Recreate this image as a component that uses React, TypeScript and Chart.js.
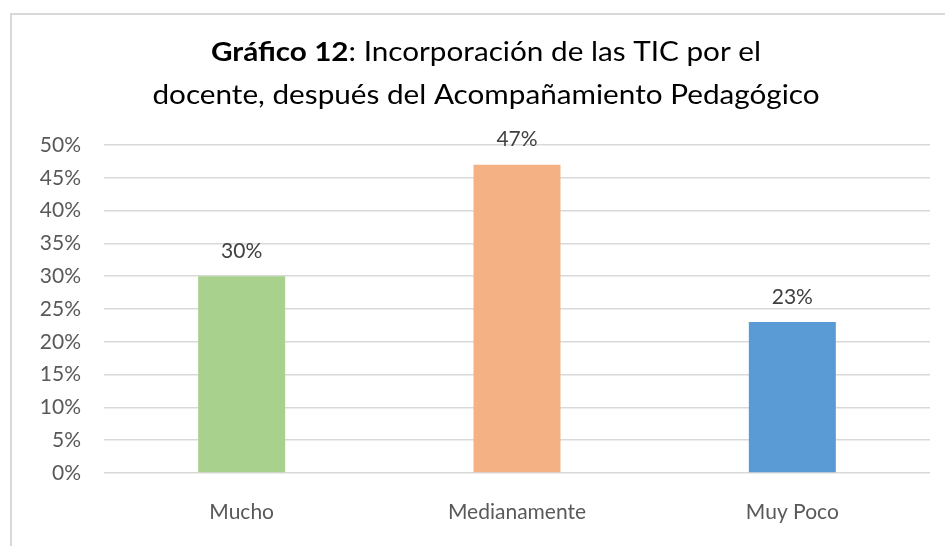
import React, { useEffect, useRef } from "react";
import { Chart, registerables } from "chart.js";

Chart.register(...registerables);

const categories = ["Mucho", "Medianamente", "Muy Poco"];
const values = [30, 47, 23];
const barColors = ["#A9D18E", "#F4B183", "#5B9BD5"];
const titleBold = "Gráfico 12";
const titleRest = ": Incorporación de las TIC por el";
const titleLine2 = "docente, después del Acompañamiento Pedagógico";
const yMax = 50;
const yStep = 5;

const FONT = "Lato, 'Open Sans', sans-serif";

const framePlugin = {
  id: "frame",
  beforeDraw(chart: any) {
    const ctx = chart.ctx;
    ctx.save();
    ctx.fillStyle = "#ffffff";
    ctx.fillRect(0, 0, chart.width, chart.height);
    ctx.strokeStyle = "#d9d9d9";
    ctx.lineWidth = 2;
    ctx.beginPath();
    ctx.moveTo(10, 14);
    ctx.lineTo(chart.width, 14);
    ctx.moveTo(11, 13);
    ctx.lineTo(11, chart.height);
    ctx.stroke();
    ctx.restore();
  },
};

const titlePlugin = {
  id: "mixedTitle",
  afterDraw(chart: any) {
    const ctx = chart.ctx;
    const cx = 486;
    const size = 27;
    const sx = 1.1;
    ctx.save();
    ctx.fillStyle = "#000000";
    ctx.textBaseline = "middle";
    ctx.textAlign = "left";
    ctx.font = `bold ${size}px ${FONT}`;
    const wb = ctx.measureText(titleBold).width;
    ctx.font = `${size}px ${FONT}`;
    const wr = ctx.measureText(titleRest).width;
    const w2 = ctx.measureText(titleLine2).width;
    ctx.translate(cx, 0);
    ctx.scale(sx, 1);
    const start1 = -(wb + wr) / 2;
    ctx.font = `bold ${size}px ${FONT}`;
    ctx.fillText(titleBold, start1, 52);
    ctx.font = `${size}px ${FONT}`;
    ctx.fillText(titleRest, start1 + wb, 52);
    ctx.fillText(titleLine2, -w2 / 2, 95);
    ctx.restore();
  },
};

const labelPlugin = {
  id: "valueLabels",
  afterDatasetsDraw(chart: any) {
    const ctx = chart.ctx;
    const meta = chart.getDatasetMeta(0);
    ctx.save();
    ctx.fillStyle = "#404040";
    ctx.font = `21px ${FONT}`;
    ctx.textAlign = "center";
    ctx.textBaseline = "middle";
    meta.data.forEach((bar: any, i: number) => {
      ctx.fillText(`${values[i]}%`, bar.x, bar.y - 25);
    });
    ctx.restore();
  },
};

export default function App() {
  const ref = useRef<HTMLCanvasElement | null>(null);
  useEffect(() => {
    if (!ref.current) return;
    const chart = new Chart(ref.current, {
      type: "bar",
      data: {
        labels: categories,
        datasets: [
          {
            data: values,
            backgroundColor: barColors,
            borderWidth: 0,
            categoryPercentage: 1,
            barPercentage: 0.316,
          },
        ],
      },
      options: {
        animation: false,
        responsive: false,
        layout: { padding: { top: 145, right: 15, left: 0, bottom: 0 } },
        plugins: {
          legend: { display: false },
          title: { display: false },
          tooltip: { enabled: false },
        },
        scales: {
          x: {
            grid: { display: false },
            border: { display: false },
            ticks: {
              color: "#595959",
              font: { family: FONT, size: 21 },
              padding: 19,
            },
            afterFit(scale: any) {
              scale.height = 73;
            },
          },
          y: {
            min: 0,
            max: yMax,
            grid: { color: "#d9d9d9", lineWidth: 1.5, drawTicks: false },
            border: { display: false },
            ticks: {
              stepSize: yStep,
              color: "#595959",
              font: { family: FONT, size: 21 },
              padding: 23,
              callback: (v: any) => `${v}%`,
            },
            afterFit(scale: any) {
              scale.width = 104;
            },
          },
        },
      },
      plugins: [framePlugin, titlePlugin, labelPlugin],
    });
    return () => chart.destroy();
  }, []);
  return (
    <div style={{ position: "absolute", left: 0, top: 0, width: 945, height: 546, background: "#fff" }}>
      <canvas ref={ref} width={945} height={546} style={{ display: "block" }} />
    </div>
  );
}
